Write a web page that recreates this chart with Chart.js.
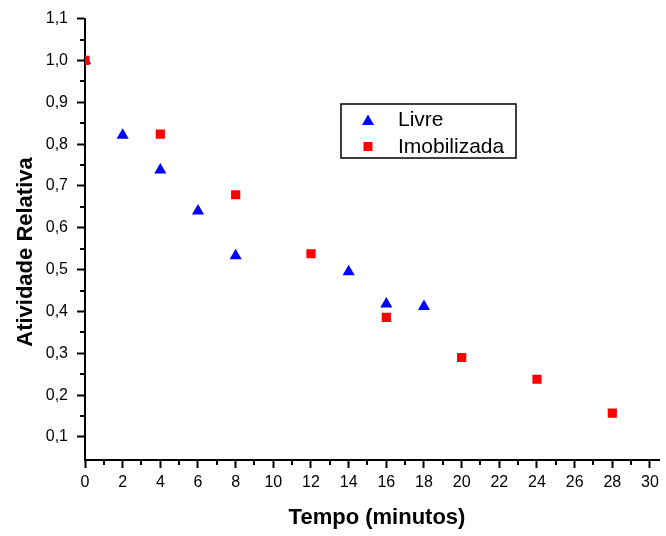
<!DOCTYPE html>
<html>
<head>
<meta charset="utf-8">
<script src="https://cdn.jsdelivr.net/npm/chart.js@4.4.1/dist/chart.umd.min.js"></script>
<style>
  body { margin: 0; background: #fff; }
  #box { width: 666px; height: 536px; }
</style>
</head>
<body>
<div id="box"><canvas id="grafico"></canvas></div>
<script>
// dados
const tempoLivre = [0, 2, 4, 6, 8, 14, 16, 18];
const livre = [1.0, 0.821, 0.738, 0.640, 0.533, 0.495, 0.418, 0.412];
const tempoImob = [0, 4, 8, 12, 16, 20, 24, 28];
const imobilizada = [1.0, 0.824, 0.679, 0.538, 0.386, 0.290, 0.238, 0.157];

const xTicks = [0, 2, 4, 6, 8, 10, 12, 14, 16, 18, 20, 22, 24, 26, 28, 30];
const xMinor = [1, 3, 5, 7, 9, 11, 13, 15, 17, 19, 21, 23, 25, 27, 29];
const yTicks = [0.1, 0.2, 0.3, 0.4, 0.5, 0.6, 0.7, 0.8, 0.9, 1.0, 1.1];
const yMinor = [0.15, 0.25, 0.35, 0.45, 0.55, 0.65, 0.75, 0.85, 0.95, 1.05];

const fonte = "'Liberation Sans', Arial, sans-serif";

function pontos(xs, ys) {
    return xs.map((x, i) => ({ x: x, y: ys[i] }));
}

// ticks menores (meio caminho entre os maiores)
const minorTicks = {
    id: "minorTicks",
    afterDraw(chart) {
        const ctx = chart.ctx;
        const xs = chart.scales.x, ys = chart.scales.y;
        const area = chart.chartArea;
        ctx.save();
        ctx.strokeStyle = "#000";
        ctx.lineWidth = 2;
        ctx.beginPath();
        xMinor.forEach(v => {
            const px = Math.round(xs.getPixelForValue(v));
            ctx.moveTo(px, area.bottom);
            ctx.lineTo(px, area.bottom + 5);
        });
        yMinor.forEach(v => {
            const py = Math.round(ys.getPixelForValue(v));
            ctx.moveTo(area.left, py);
            ctx.lineTo(area.left - 5, py);
        });
        ctx.stroke();
        ctx.restore();
    }
};

// titulos dos eixos
const titulos = {
    id: "titulos",
    afterDraw(chart) {
        const ctx = chart.ctx;
        ctx.save();
        ctx.fillStyle = "#000";
        ctx.font = "bold 22px " + fonte;
        ctx.textAlign = "center";
        ctx.textBaseline = "middle";
        ctx.fillText("Tempo (minutos)", 377, 518);
        ctx.translate(26, 252);
        ctx.rotate(-Math.PI / 2);
        ctx.fillText("Atividade Relativa", 0, 0);
        ctx.restore();
    }
};

// legenda com moldura
const legenda = {
    id: "legenda",
    afterDraw(chart) {
        const ctx = chart.ctx;
        const ds = chart.data.datasets;
        ctx.save();
        ctx.fillStyle = "#fff";
        ctx.fillRect(341, 104, 175, 54);
        ctx.strokeStyle = "#000";
        ctx.lineWidth = 1.5;
        ctx.strokeRect(341, 104, 175, 54);

        // triangulo
        ctx.fillStyle = ds[0].backgroundColor;
        ctx.beginPath();
        ctx.moveTo(368, 114.5);
        ctx.lineTo(374, 125);
        ctx.lineTo(362, 125);
        ctx.closePath();
        ctx.fill();
        // quadrado
        ctx.fillStyle = ds[1].backgroundColor;
        ctx.fillRect(363.5, 142, 9, 9);

        ctx.fillStyle = "#000";
        ctx.font = "21px " + fonte;
        ctx.textBaseline = "middle";
        ctx.fillText(ds[0].label, 398, 120);
        ctx.fillText(ds[1].label, 398, 147);
        ctx.restore();
    }
};

const eixo = {
    display: true,
    drawOnChartArea: false,
    drawTicks: true,
    tickLength: 8,
    tickColor: "#000",
    tickWidth: 2
};

new Chart(document.getElementById("grafico"), {
    type: "scatter",
    data: {
        datasets: [{
            label: "Livre",
            data: pontos(tempoLivre, livre),
            pointStyle: "triangle",
            pointRadius: 7,
            pointHoverRadius: 7,
            backgroundColor: "#0000ff",
            borderColor: "#0000ff",
            borderWidth: 0,
            clip: 0,
            order: 2
        }, {
            label: "Imobilizada",
            data: pontos(tempoImob, imobilizada),
            pointStyle: "rect",
            pointRadius: 6.5,
            pointHoverRadius: 6.5,
            backgroundColor: "#ff0000",
            borderColor: "#ff0000",
            borderWidth: 0,
            clip: 0,
            order: 1
        }]
    },
    options: {
        responsive: true,
        maintainAspectRatio: false,
        animation: false,
        layout: { padding: { top: 17, right: 0, left: 0, bottom: 0 } },
        plugins: {
            legend: { display: false },
            tooltip: { enabled: false }
        },
        scales: {
            x: {
                type: "linear",
                min: 0,
                max: 30.48,
                afterBuildTicks: s => { s.ticks = xTicks.map(v => ({ value: v })); },
                afterFit: s => { s.height = 76; },
                grid: eixo,
                border: { display: true, color: "#000", width: 2 },
                ticks: {
                    color: "#000",
                    padding: 5,
                    maxRotation: 0,
                    autoSkip: false,
                    font: { family: fonte, size: 16 },
                    callback: v => String(v)
                }
            },
            y: {
                type: "linear",
                min: 0.045,
                max: 1.1,
                afterBuildTicks: s => { s.ticks = yTicks.map(v => ({ value: v })); },
                afterFit: s => { s.width = 85; },
                grid: eixo,
                border: { display: true, color: "#000", width: 2 },
                ticks: {
                    color: "#000",
                    padding: 9,
                    autoSkip: false,
                    font: { family: fonte, size: 16 },
                    callback: v => v.toFixed(1).replace(".", ",")
                }
            }
        }
    },
    plugins: [minorTicks, titulos, legenda]
});
</script>
</body>
</html>
